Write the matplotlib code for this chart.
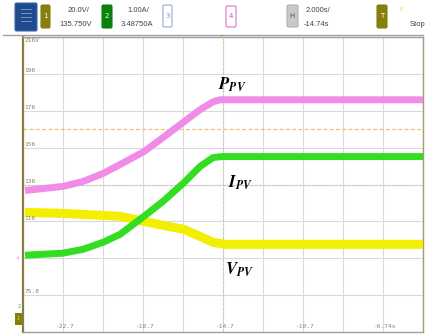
import numpy as np
import matplotlib
matplotlib.use("Agg")
import matplotlib.pyplot as plt
from matplotlib.patches import FancyBboxPatch, Polygon

# scope settings (ch1 scale used for the y axis)
v_center = 135.75
v_div = 20.0
t_center = -14.74
t_div = 2.0

y_labels = ["216V", "196", "176", "156", "136", "116", "95.8", "75.8"]
x_labels = ["-22.7", "-18.7", "-14.7", "-10.7", "-6.74s"]

# traces (time in s, level in ch1 volts)
t_p = [-24.64, -22.74, -21.74, -20.74, -19.89, -18.69, -17.74, -16.69, -15.89, -15.24, -14.89, -4.74]
v_p = [132.5, 134.7, 137.4, 141.7, 146.6, 153.6, 161.2, 169.8, 176.3, 180.6, 181.7, 181.7]

t_i = [-24.64, -22.74, -21.74, -20.74, -19.89, -18.69, -17.74, -16.69, -15.89, -15.24, -14.79, -4.74]
v_i = [97.4, 98.5, 100.6, 104.4, 108.7, 118.5, 126.6, 136.8, 145.5, 150.35, 150.9, 150.9]

t_v = [-24.64, -22.74, -20.74, -19.89, -18.69, -17.74, -16.69, -15.89, -15.24, -14.64, -4.74]
v_v = [120.6, 120.1, 119.0, 118.5, 115.75, 113.6, 111.4, 107.6, 104.4, 103.3, 103.3]

trig_level = 166.0

W, H = 427, 336
fig = plt.figure(figsize=(W / 100, H / 100), dpi=100)
fig.patch.set_facecolor("white")

x0, x1, y0, y1 = 23, 423, 37, 332
ax = fig.add_axes([x0 / W, 1 - y1 / H, (x1 - x0) / W, (y1 - y0) / H])
tmin, tmax = t_center - 5 * t_div, t_center + 5 * t_div
vmin, vmax = v_center - 4 * v_div, v_center + 4 * v_div
ax.set_xlim(tmin, tmax)
ax.set_ylim(vmin, vmax)
ax.set_xticks([tmin + k * t_div for k in range(11)])
ax.set_yticks([vmin + k * v_div for k in range(9)])
ax.tick_params(length=0, labelbottom=False, labelleft=False)
ax.grid(True, color="#d9d9d9", lw=0.8)
ax.set_axisbelow(True)
for s in ["top", "bottom"]:
    ax.spines[s].set_color("#a0a0a0")
    ax.spines[s].set_linewidth(1.0)
ax.spines["left"].set_color("#8b7a45")
ax.spines["left"].set_linewidth(1.6)
ax.spines["right"].set_color("#a89a78")
ax.spines["right"].set_linewidth(1.0)

# center cross dotted lines
ax.axvline(t_center, color="#c8c8c8", lw=0.8, ls=(0, (2, 2)))
ax.axhline(v_center, color="#c8c8c8", lw=0.8, ls=(0, (2, 2)))
# trigger level
ax.axhline(trig_level, color="#f0c070", lw=0.9, ls=(0, (3, 2)))

# traces
ax.plot(t_v, v_v, color="#f2f000", lw=6.5, solid_joinstyle="round", solid_capstyle="butt", zorder=3)
ax.plot(t_i, v_i, color="#33dd22", lw=5, solid_joinstyle="round", solid_capstyle="butt", zorder=4)
ax.plot(t_p, v_p, color="#f08ce8", lw=5, solid_joinstyle="round", solid_capstyle="butt", zorder=5)

# scale labels inside the graticule
lab_col = "#8a8560"
for k, lab in enumerate(y_labels):
    yv = vmax - k * v_div
    if k == 0:
        ax.text(tmin + 0.08, yv - 0.8, lab, fontsize=4.5, color=lab_col, va="top",
                family="DejaVu Sans Mono")
    else:
        ax.text(tmin + 0.08, yv + 0.4, lab, fontsize=4.5, color=lab_col, va="bottom",
                family="DejaVu Sans Mono")
for k, lab in enumerate(x_labels):
    xv = tmin + (2 * k + 1) * t_div
    ax.text(xv + 0.1, vmin + 1.5, lab, fontsize=4.5, color=lab_col, ha="center",
            va="bottom", family="DejaVu Sans Mono")

# trace names
plt.rcParams["mathtext.fontset"] = "stix"
ax.text(-15.0, 189.8, r"$\mathbfit{P}_{\mathbfit{PV}}$", fontsize=12, ha="left", va="center")
ax.text(-14.5, 136.8, r"$\mathbfit{I}_{\mathbfit{PV}}$", fontsize=12, ha="left", va="center")
ax.text(-14.65, 89.3, r"$\mathbfit{V}_{\mathbfit{PV}}$", fontsize=12, ha="left", va="center")

# header / overlay in pixel coordinates
ov = fig.add_axes([0, 0, 1, 1], zorder=10)
ov.set_xlim(0, W)
ov.set_ylim(H, 0)
ov.axis("off")
ov.patch.set_alpha(0)


def box(x, y, w, h, fc, ec=None, lw=0.8):
    ov.add_patch(FancyBboxPatch((x, y), w, h, boxstyle="round,pad=0,rounding_size=1.5",
                                fc=fc, ec=ec if ec else fc, lw=lw))


box(15, 3, 22, 28, "#1f4a8e", "#3a6ab0")
for yy in [9, 13, 17, 21]:
    ov.plot([21, 31], [yy, yy], color="#7f9ccc", lw=0.6)
box(41, 5, 9, 23, "#857f0c")
ov.text(45.5, 16.5, "1", color="white", fontsize=5, ha="center", va="center")
ov.text(79, 10, "20.0V/", fontsize=5.5, color="#444444", ha="center", va="center", family="Liberation Sans")
ov.text(76, 24.5, "135.750V", fontsize=5.5, color="#444444", ha="center", va="center", family="Liberation Sans")
box(102, 5, 10, 23, "#0c800c")
ov.text(107, 16.5, "2", color="white", fontsize=5, ha="center", va="center")
ov.text(138, 10, "1.00A/", fontsize=5.5, color="#444444", ha="center", va="center", family="Liberation Sans")
ov.text(137, 24.5, "3.48750A", fontsize=5.5, color="#444444", ha="center", va="center", family="Liberation Sans")
box(163, 5, 9, 22, "white", "#9aa6d6")
ov.text(167.5, 16, "3", color="#8090c4", fontsize=5, ha="center", va="center")
box(226, 6, 10, 21, "white", "#e070c8")
ov.text(231, 16.5, "4", color="#c050a0", fontsize=5, ha="center", va="center")
box(287, 5, 11, 22, "#c8c8c8", "#b0b0b0")
ov.text(292.5, 16, "H", color="#555555", fontsize=5, ha="center", va="center")
ov.text(318, 10, "2.000s/", fontsize=5.5, color="#444444", ha="center", va="center", family="Liberation Sans")
ov.text(316, 24.5, "-14.74s", fontsize=5.5, color="#444444", ha="center", va="center", family="Liberation Sans")
box(377, 5, 10, 23, "#857f0c")
ov.text(382, 16.5, "T", color="white", fontsize=5, ha="center", va="center")
ov.text(401, 10, "f", color="#e8e060", fontsize=5, ha="center", va="center")
ov.text(410, 24.5, "Stop", fontsize=5.5, color="#444444", ha="left", va="center", family="Liberation Sans")

ov.plot([3, 423], [35, 35], color="#a0a0a0", lw=1.0)
ov.add_patch(Polygon([[220, 35], [226, 35], [223, 39]], closed=True, fc="#f0c070", ec="none"))

# channel markers on left edge
ov.add_patch(FancyBboxPatch((15, 313), 7, 12, boxstyle="square,pad=0", fc="#857f0c", ec="none"))
ov.text(18.5, 319, "1", color="#d8d080", fontsize=3.5, ha="center", va="center")
ov.text(19, 306, "2", color="#33bb22", fontsize=3.5, ha="center", va="center")
ov.text(17, 258, "4", color="#e0a0e0", fontsize=4, ha="center", va="center")

fig.savefig("out.png", dpi=100, facecolor="white")
